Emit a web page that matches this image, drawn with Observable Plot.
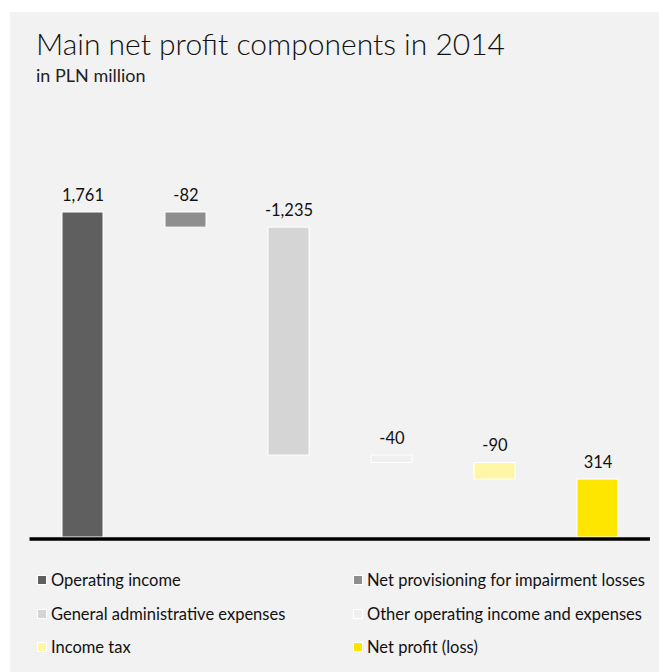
<!DOCTYPE html>
<html>
<head>
<meta charset="utf-8">
<script src="https://cdn.jsdelivr.net/npm/d3@7"></script>
<script src="https://cdn.jsdelivr.net/npm/@observablehq/plot@0.6"></script>
<style>
  html, body { margin: 0; padding: 0; background: #ffffff; }
  body { width: 659px; height: 672px; position: relative; overflow: hidden; font-family: Lato, "Noto Sans", sans-serif; }
  #panel { position: absolute; left: 10px; top: 12px; width: 649px; height: 660px; background: #f2f2f2; }
  #title { position: absolute; left: 26px; top: 16px; font-size: 30px; line-height: 30px; font-weight: 300; color: #111; white-space: nowrap; }
  #subtitle { position: absolute; left: 26px; top: 54px; font-size: 18px; line-height: 18px; font-weight: 400; color: #222; white-space: nowrap; }
  #chart { position: absolute; left: 0; top: 88px; }
  .leg { position: absolute; display: flex; align-items: center; height: 20px; font-size: 16.5px; line-height: 20px; color: #111; white-space: nowrap; }
  .sw { width: 8px; height: 8px; border: 1px solid #ffffff; margin-right: 4px; flex: none; }
</style>
</head>
<body>
<div id="panel">
  <div id="title">Main net profit components in 2014</div>
  <div id="subtitle">in PLN million</div>
  <div id="chart"></div>
  <div id="legend"></div>
</div>
<script>
const categories = [
  "Operating income",
  "Net provisioning for impairment losses",
  "General administrative expenses",
  "Other operating income and expenses",
  "Income tax",
  "Net profit (loss)"
];
const values = [1761, -82, -1235, -40, -90, 314];
const isTotal = [false, false, false, false, false, true];
const colors = ["#5f5f5f", "#8e8e8e", "#d5d5d5", "#f0f0f0", "#fff6a6", "#ffe600"];

const fmt = v => d3.format(",")(v).replace("\u2212", "-");

let run = 0;
const rows = categories.map((cat, i) => {
  let start, end;
  if (isTotal[i]) { start = 0; end = values[i]; }
  else { start = run; end = run + values[i]; run = end; }
  return { cat, value: values[i], start, end, top: Math.max(start, end), color: colors[i] };
});

const chart = Plot.plot({
  width: 649,
  height: 460,
  marginLeft: 19.5,
  marginRight: 9,
  marginTop: 112,
  marginBottom: 23,
  x: { domain: categories, paddingInner: 0.6, paddingOuter: 0.3, axis: null },
  y: { domain: [0, 1761], axis: null },
  color: { type: "identity" },
  style: { background: "transparent", fontFamily: "Lato, 'Noto Sans', sans-serif", fontSize: "16.5px", color: "#111" },
  marks: [
    Plot.barY(rows, { x: "cat", y1: "start", y2: "end", fill: "color", stroke: "#ffffff", strokeWidth: 1 }),
    Plot.ruleY([0], { stroke: "#000000", strokeWidth: 3.5, dy: 1.5 }),
    Plot.text(rows, { x: "cat", y: "top", text: d => fmt(d.value), dy: -12, lineAnchor: "bottom", fontSize: 16.5, fill: "#111" })
  ]
});
document.getElementById("chart").appendChild(chart);

const legend = document.getElementById("legend");
const legX = [27, 343];
const legY = [558, 591.5, 625];
categories.forEach((cat, i) => {
  const item = document.createElement("div");
  item.className = "leg";
  item.style.left = legX[i % 2] + "px";
  item.style.top = legY[Math.floor(i / 2)] + "px";
  const sw = document.createElement("span");
  sw.className = "sw";
  sw.style.background = colors[i];
  const tx = document.createElement("span");
  tx.textContent = cat;
  item.appendChild(sw);
  item.appendChild(tx);
  legend.appendChild(item);
});
</script>
</body>
</html>
